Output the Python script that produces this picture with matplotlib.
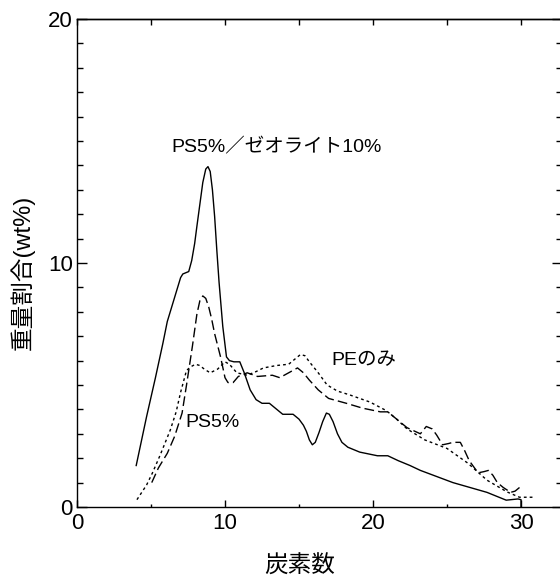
import matplotlib
matplotlib.use("Agg")
import matplotlib.pyplot as plt
from matplotlib.ticker import MultipleLocator, NullFormatter

plt.rcParams['font.family'] = ['Liberation Sans', 'Noto Sans CJK JP', 'DejaVu Sans']

# carbon number vs weight fraction (wt%)
zeolite_x = [4.0, 4.7, 5.3, 5.8, 6.1, 6.6, 7.0, 7.15, 7.35, 7.55, 7.75, 7.95, 8.1, 8.3,
             8.5, 8.7, 8.85, 9.0, 9.15, 9.3, 9.45, 9.6, 9.85, 10.1, 10.3, 10.6,
             11.0, 11.3, 11.7, 12.1, 12.5, 13.0, 13.5, 13.9, 14.6, 15.0, 15.3,
             15.5, 15.7, 15.9, 16.1, 16.35, 16.6, 16.85, 17.05, 17.3, 17.6, 17.9,
             18.3, 19.1, 20.3, 21.0, 21.7, 22.5, 23.2, 25.4, 27.7, 29.0, 29.8,
             30.0, 30.0]
zeolite_y = [1.7, 3.7, 5.3, 6.7, 7.6, 8.6, 9.4, 9.55, 9.6, 9.65, 10.1, 10.8, 11.5, 12.4,
             13.3, 13.85, 13.95, 13.75, 13.0, 11.9, 10.5, 9.2, 7.4, 6.15, 6.0, 5.95,
             5.95, 5.5, 4.8, 4.4, 4.25, 4.25, 4.0, 3.8, 3.8, 3.6, 3.35,
             3.1, 2.75, 2.55, 2.65, 3.05, 3.5, 3.85, 3.8, 3.5, 3.0, 2.65,
             2.45, 2.25, 2.1, 2.1, 1.9, 1.7, 1.5, 1.0, 0.6, 0.28, 0.33,
             0.3, 0.0]

ps_x = [5.05, 5.5, 6.1, 6.6, 7.1, 7.4, 7.8, 8.1, 8.3, 8.5, 8.7, 8.9, 9.1, 9.3, 9.7,
        10.0, 10.2, 10.55, 10.9, 11.5, 12.2, 13.2, 13.7, 14.3, 14.9, 15.3, 15.7,
        16.3, 17.0, 18.2, 19.3, 20.5, 21.0, 21.6, 22.3, 23.2, 23.6, 24.0, 24.3,
        24.7, 25.1, 25.4, 25.9, 26.2, 26.5, 27.1, 27.5, 27.8, 28.1, 28.4, 28.8,
        29.3, 29.6, 29.9]
ps_y = [1.0, 1.6, 2.2, 2.9, 3.85, 5.0, 6.6, 7.9, 8.45, 8.65, 8.55, 8.2, 7.7, 7.1, 6.15,
        5.3, 5.1, 5.1, 5.35, 5.5, 5.35, 5.4, 5.3, 5.5, 5.7, 5.5, 5.2,
        4.8, 4.45, 4.25, 4.05, 3.9, 3.9, 3.6, 3.25, 3.0, 3.3, 3.2, 2.95,
        2.55, 2.6, 2.65, 2.65, 2.3, 1.9, 1.4, 1.45, 1.5, 1.3, 1.0, 0.8,
        0.6, 0.65, 0.8]

pe_x = [4.05, 4.7, 5.1, 5.6, 6.3, 6.7, 7.0, 7.4, 7.7, 8.0, 8.3, 8.6, 9.0, 9.5, 10.0,
        10.3, 10.8, 11.5, 12.1, 12.6, 13.5, 14.3, 14.8, 15.1, 15.4, 15.7, 16.3,
        16.9, 17.6, 18.4, 19.8, 20.9, 21.6, 22.3, 23.5, 25.0, 26.4, 27.7, 29.05,
        29.9, 30.8]
pe_y = [0.3, 0.9, 1.4, 2.1, 3.15, 3.9, 4.7, 5.6, 5.75, 5.85, 5.8, 5.65, 5.5, 5.65, 5.95,
        5.85, 5.5, 5.4, 5.55, 5.7, 5.8, 5.85, 6.1, 6.25, 6.2, 5.95, 5.5,
        5.0, 4.75, 4.6, 4.3, 3.95, 3.6, 3.2, 2.75, 2.4, 1.8, 1.1, 0.62,
        0.4, 0.4]

W, H = 560, 579
fig = plt.figure(figsize=(W / 100, H / 100), dpi=100)
ax = fig.add_axes([77 / W, (H - 507) / H, (562 - 77) / W, (507 - 19) / H])

ax.plot(zeolite_x, zeolite_y, color='black', lw=1.0)
ax.plot(ps_x, ps_y, color='black', lw=1.0, linestyle=(0, (7, 3)))
ax.plot(pe_x, pe_y, color='black', lw=1.0, linestyle=(0, (2, 2.2)))

ax.set_xlim(0, 32.77)
ax.set_ylim(0, 20)

for s in ax.spines.values():
    s.set_linewidth(1.0)

ax.xaxis.set_major_locator(MultipleLocator(10))
ax.xaxis.set_minor_locator(MultipleLocator(5))
ax.yaxis.set_major_locator(MultipleLocator(10))
ax.yaxis.set_minor_locator(MultipleLocator(1))
ax.tick_params(axis='x', which='major', direction='in', length=5, width=1.0,
               labelsize=16, pad=4)
ax.tick_params(axis='x', which='minor', direction='in', length=2.5, width=1.0)
ax.tick_params(axis='y', which='major', direction='in', length=7, width=1.0,
               labelsize=16, pad=3)
ax.tick_params(axis='y', which='minor', direction='in', length=4, width=1.0)

# tick marks on the opposite sides, without labels
top = ax.secondary_xaxis('top')
top.xaxis.set_major_locator(MultipleLocator(5))
top.xaxis.set_major_formatter(NullFormatter())
top.tick_params(direction='in', length=4.5, width=1.0)
top.spines['top'].set_linewidth(1.0)

right = ax.secondary_yaxis('right')
right.yaxis.set_major_locator(MultipleLocator(10))
right.yaxis.set_minor_locator(MultipleLocator(1))
right.yaxis.set_major_formatter(NullFormatter())
right.tick_params(which='major', direction='in', length=7, width=1.0)
right.tick_params(which='minor', direction='in', length=4, width=1.0)

# axis titles placed in figure pixels
fig.text(300 / W, 1 - 567 / H, '炭素数', fontsize=17, ha='center', va='center')
fig.text(22 / W, 1 - 272 / H, '重量割合(wt%)', fontsize=17, ha='center', va='center',
         rotation=90)

ax.text(6.4, 14.75, 'PS5%／ゼオライト10%', fontsize=14, ha='left', va='center')
ax.text(17.2, 6.0, 'PEのみ', fontsize=14, ha='left', va='center')
ax.text(7.35, 3.45, 'PS5%', fontsize=14, ha='left', va='center')

fig.savefig('out.png', dpi=100)
